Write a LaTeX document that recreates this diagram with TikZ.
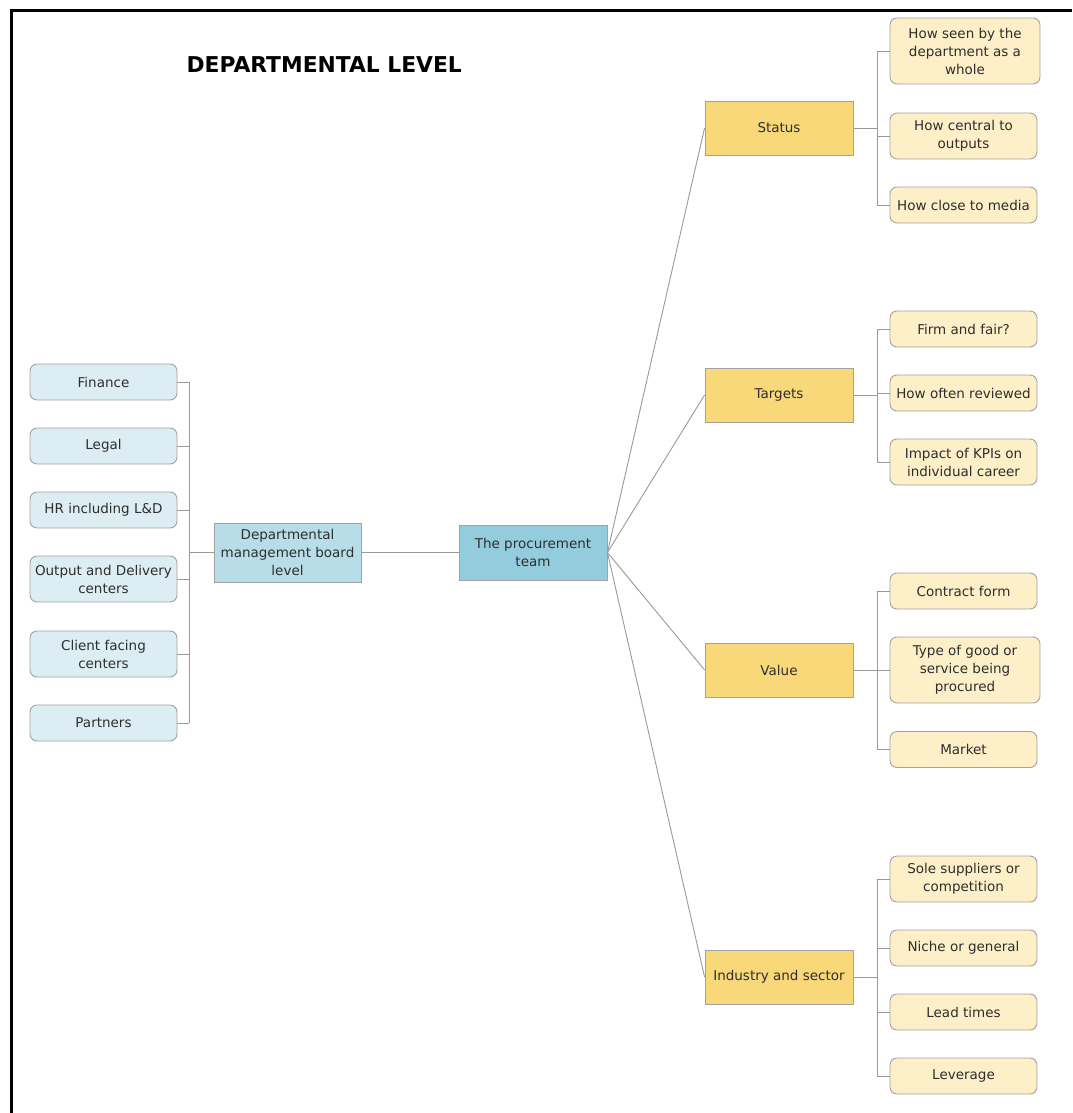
\documentclass[tikz,border=0pt]{standalone}
\usepackage{fontspec}
\setmainfont{DejaVu Sans}
\definecolor{txt}{HTML}{2E2E2E}
\definecolor{edge}{HTML}{A2A2A2}
\definecolor{wire}{HTML}{999999}
\definecolor{paleblue}{HTML}{DCEEF4}
\definecolor{midblue}{HTML}{B7DEE8}
\definecolor{deepblue}{HTML}{93CDDD}
\definecolor{gold}{HTML}{F9D87A}
\definecolor{cream}{HTML}{FDEFC7}
\begin{document}
\begin{tikzpicture}[x=1pt,y=-1pt,
  box/.style={draw=edge,line width=0.9pt,text=txt,align=center,inner sep=1pt,
    font=\fontsize{13.5}{18}\selectfont},
  unit/.style={box,rounded corners=7pt,fill=paleblue,minimum width=147pt,minimum height=36pt},
  board/.style={box,fill=midblue,minimum width=147pt,minimum height=59pt},
  team/.style={box,fill=deepblue,minimum width=148pt,minimum height=55pt},
  topic/.style={box,fill=gold,minimum width=148pt,minimum height=54pt},
  item/.style={box,rounded corners=7pt,fill=cream,minimum width=147pt,minimum height=36pt},
  conn/.style={draw=wire,line width=0.9pt}]
\useasboundingbox (0,0) rectangle (1072,1113);

% frame
\draw[line width=3pt] (11,1113) -- (11,11) -- (1072,11);

% title
\node[anchor=west,font=\bfseries\fontsize{21.8}{24}\selectfont,text=black] (title) at (183,65) {DEPARTMENTAL LEVEL};

% left column
\node[unit] (finance) at (103.5,382) {Finance};
\node[unit] (legal) at (103.5,446) {Legal};
\node[unit] (hr) at (103.5,510) {HR including L\&D};
\node[unit,minimum height=46pt] (output) at (103.5,579) {Output and Delivery\\centers};
\node[unit,minimum height=46pt] (client) at (103.5,654) {Client facing\\centers};
\node[unit] (partners) at (103.5,723) {Partners};

\node[board] (dept) at (287.5,552.5) {Departmental\\management board\\level};
\node[team] (team) at (533,552.5) {The procurement\\team};

% middle column
\node[topic] (status) at (779,128) {Status};
\node[topic] (targets) at (779,395) {Targets};
\node[topic] (value) at (779,670) {Value};
\node[topic] (industry) at (779,977) {Industry and sector};

% right column
\node[item,minimum width=150pt,minimum height=66pt] (seen) at (965,51) {How seen by the\\department as a\\whole};
\node[item,minimum height=46pt] (central) at (963.5,136) {How central to\\outputs};
\node[item] (media) at (963.5,205) {How close to media};

\node[item] (firm) at (963.5,329) {Firm and fair?};
\node[item] (often) at (963.5,393) {How often reviewed};
\node[item,minimum height=46pt] (kpi) at (963.5,462) {Impact of KPIs on\\individual career};

\node[item] (contract) at (963.5,591) {Contract form};
\node[item,minimum width=150pt,minimum height=66pt] (good) at (965,670) {Type of good or\\service being\\procured};
\node[item] (market) at (963.5,749.5) {Market};

\node[item,minimum height=46pt] (sole) at (963.5,879) {Sole suppliers or\\competition};
\node[item] (niche) at (963.5,948) {Niche or general};
\node[item] (lead) at (963.5,1012) {Lead times};
\node[item] (leverage) at (963.5,1076) {Leverage};

% bus positions
\coordinate (lbus) at (189,0);
\coordinate (rbus) at (877,0);

% left tree
\foreach \n in {finance,legal,hr,output,client,partners}
  \draw[conn] (\n.east) -- (\n.east -| lbus);
\draw[conn] (finance.east -| lbus) -- (partners.east -| lbus);
\draw[conn] (dept.west) -- (dept.west -| lbus);
\draw[conn] (dept.east) -- (team.west);

% spokes
\foreach \n in {status,targets,value,industry}
  \draw[conn] (team.east) -- (\n.west);

% right trees
\foreach \t/\a/\b/\list in {status/seen/media/{seen,central,media},
    targets/firm/kpi/{firm,often,kpi},
    value/contract/market/{contract,good,market},
    industry/sole/leverage/{sole,niche,lead,leverage}}{
  \draw[conn] (\t.east) -- (\t.east -| rbus);
  \draw[conn] (\a.west -| rbus) -- (\b.west -| rbus);
  \foreach \n in \list
    \draw[conn] (\n.west) -- (\n.west -| rbus);
}
\end{tikzpicture}
\end{document}
